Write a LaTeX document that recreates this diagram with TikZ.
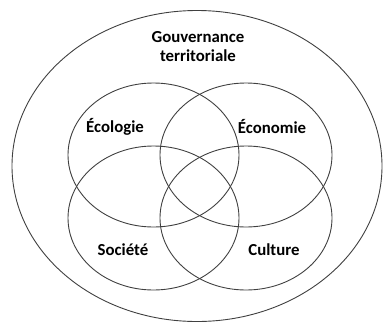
\documentclass[tikz,border=0pt]{standalone}
\usepackage{fontspec}
\setmainfont{Carlito}
\begin{document}
\begin{tikzpicture}[x=1pt,y=-1pt,
  ring/.style={draw=black!75, line width=0.9pt},
  lab/.style={font=\fontsize{16.8}{19}\selectfont\bfseries, text=black, align=center, inner sep=0pt}]
\useasboundingbox (0,0) rectangle (383,322);
\draw[ring] (197,166) ellipse [x radius=185, y radius=155.5];
\draw[ring] (153.5,155) ellipse [x radius=85.5, y radius=72];
\draw[ring] (246,155) ellipse [x radius=86, y radius=72];
\draw[ring] (153.5,218) ellipse [x radius=85.5, y radius=72];
\draw[ring] (246,218) ellipse [x radius=86, y radius=72];
\node[lab] (gov) at (198,47) {Gouvernance\\territoriale};
\node[lab] (eco) at (115,127) {Écologie};
\node[lab] (econ) at (272,127) {Économie};
\node[lab] (soc) at (123,250) {Société};
\node[lab] (cul) at (274,250) {Culture};
\end{tikzpicture}
\end{document}
